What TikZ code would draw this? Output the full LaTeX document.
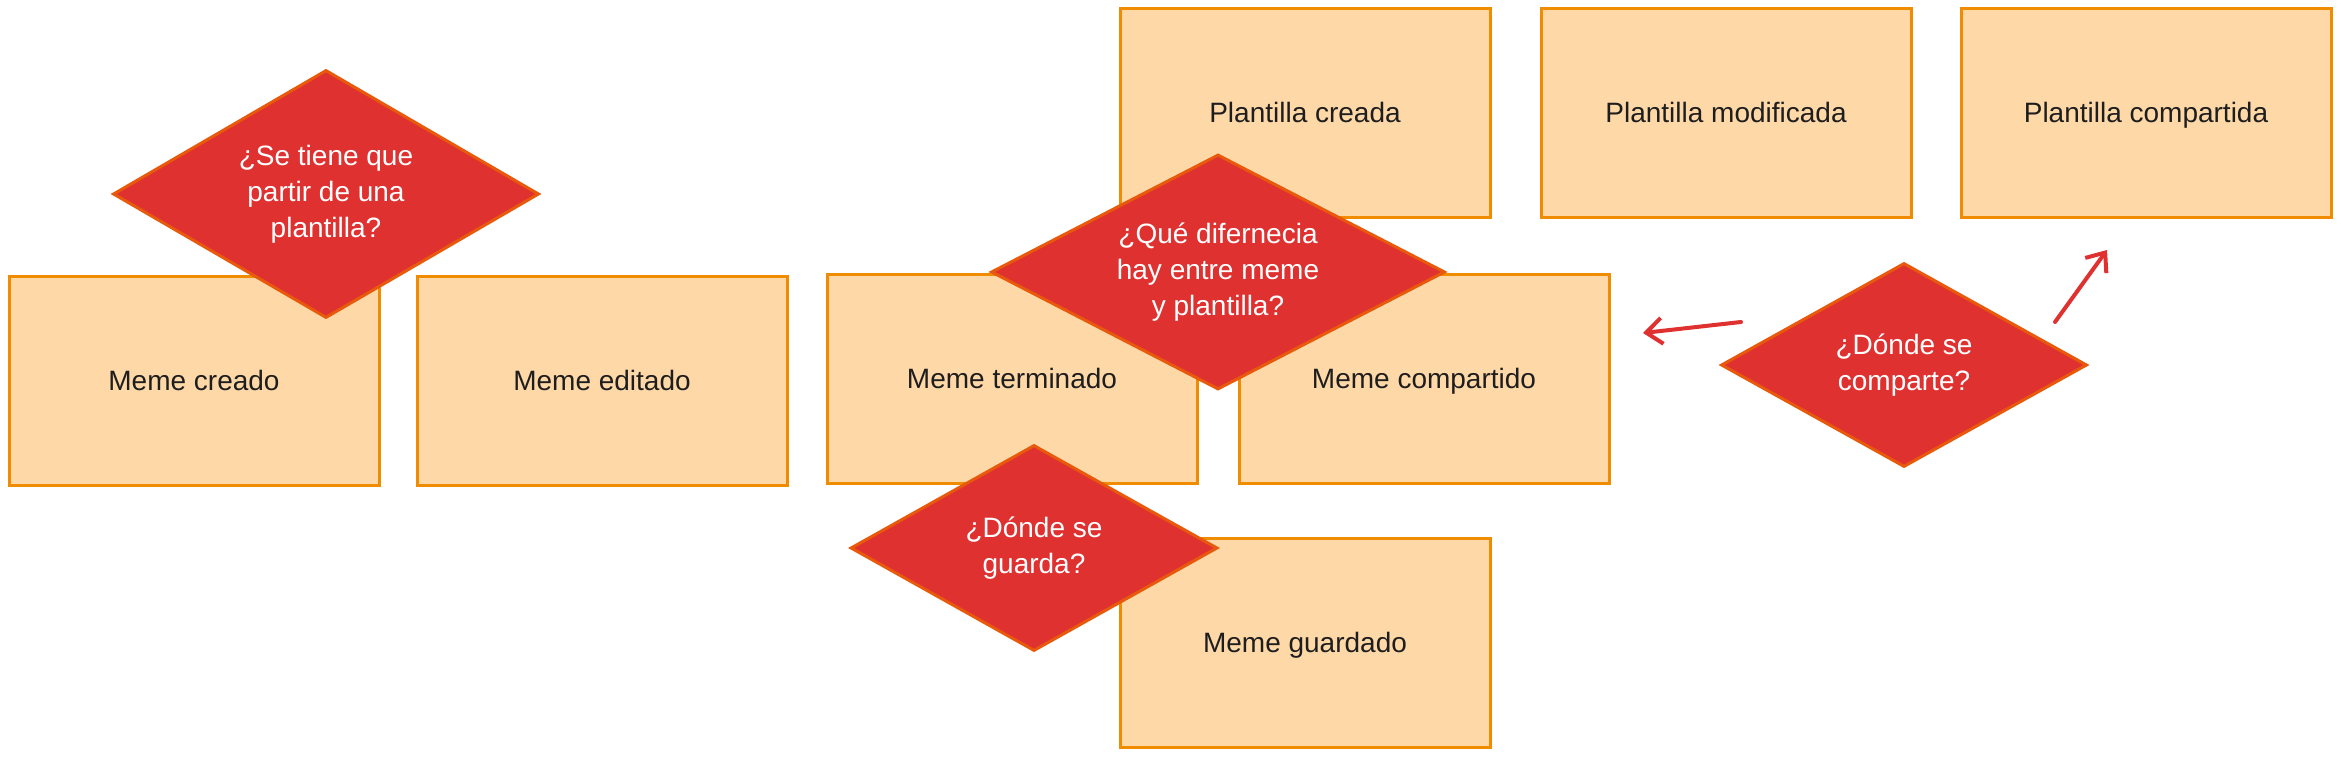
\documentclass[tikz,border=0pt]{standalone}
\usepackage{fontspec}
\setmainfont{Liberation Sans}
\usetikzlibrary{shapes.geometric,arrows.meta}
\definecolor{boxfill}{HTML}{FFD8A8}
\definecolor{boxline}{HTML}{F08C00}
\definecolor{dfill}{HTML}{E03131}
\definecolor{dline}{HTML}{E8590C}
\definecolor{txt}{HTML}{1E1E1E}
\tikzset{
  card/.style={rectangle, draw=boxline, fill=boxfill, line width=3pt,
    minimum width=370pt, minimum height=209pt, inner sep=0pt,
    text height=23pt, text depth=4pt,
    text=txt, font=\fontsize{28}{36}\selectfont},
  question/.style={diamond, draw=dline, fill=dfill, line width=3pt,
    inner sep=0pt, aspect=1.7, text=white, align=center,
    font=\fontsize{28}{36}\selectfont},
  link/.style={draw=dfill, line width=4pt, line cap=round,
    -{Straight Barb[length=16pt,width=26pt,line width=4pt]}}
}
\begin{document}
\begin{tikzpicture}[x=1pt,y=-1pt]
\useasboundingbox (0,0) rectangle (2341,759);
% boxes
\node[card] (creado)   at (194,381) {Meme creado};
\node[card] (editado)  at (602,381) {Meme editado};
\node[card] (terminado) at (1012,379) {Meme terminado};
\node[card] (compartido) at (1424,379) {Meme compartido};
\node[card] (pcreada)  at (1305,113) {Plantilla creada};
\node[card] (pmod)     at (1726,113) {Plantilla modificada};
\node[card] (pcomp)    at (2146,113) {Plantilla compartida};
\node[card] (guardado) at (1305,643) {Meme guardado};
% decisions
\node[question, minimum width=426pt, minimum height=248pt] (q1) at (326,194)
  {¿Se tiene que\\partir de una\\plantilla?};
\node[question, minimum width=454pt, minimum height=235pt] (q2) at (1218,272)
  {¿Qué difernecia\\hay entre meme\\y plantilla?};
\node[question, minimum width=367pt, minimum height=206pt] (q3) at (1034,548)
  {¿Dónde se\\guarda?};
\node[question, minimum width=366pt, minimum height=204pt] (q4) at (1904,365)
  {¿Dónde se\\comparte?};
% arrows
\coordinate (a1s) at (1741,322);
\coordinate (a1e) at (1643,333);
\coordinate (a2s) at (2055,322);
\coordinate (a2e) at (2107,250);
\draw[link] (a1s) -- (a1e);
\draw[link] (a2s) -- (a2e);
\end{tikzpicture}
\end{document}
